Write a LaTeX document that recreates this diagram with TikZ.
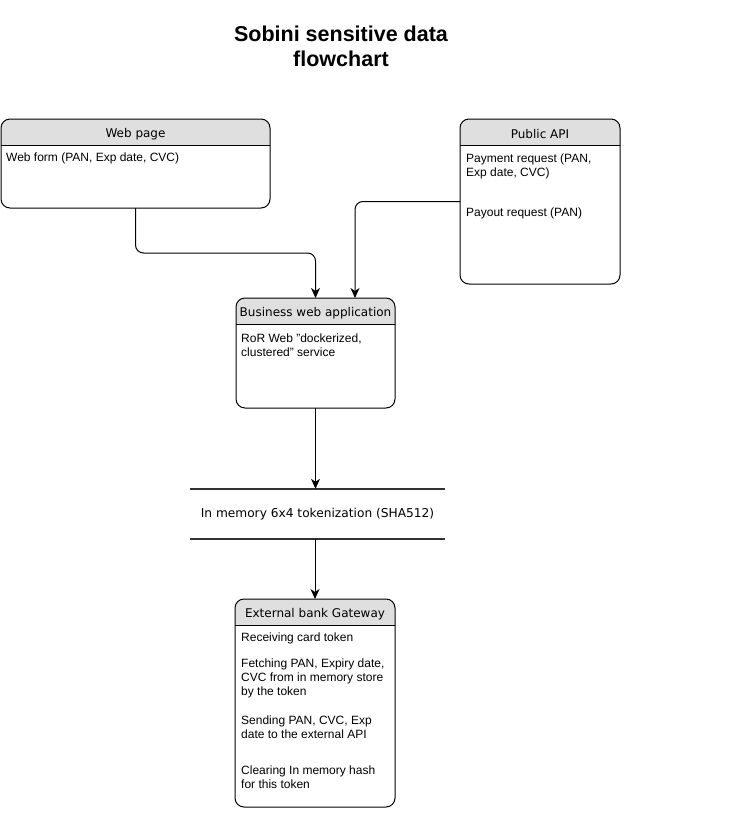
\documentclass[tikz,border=0pt]{standalone}
\usepackage{fontspec}
\setmainfont{Liberation Sans}
\newfontfamily\hdfont{DejaVu Sans}
\usepackage{tikz}
\usetikzlibrary{arrows.meta,backgrounds}

\begin{document}
\begin{tikzpicture}[
    x=1pt, y=1pt,
    box/.style = {draw, rounded corners=9pt, line width=1pt, inner sep=0pt, outer sep=0pt},
    head/.style = {font=\hdfont\fontsize{12}{14}\selectfont, inner sep=0pt},
    body/.style = {font=\fontsize{12}{14}\selectfont, align=left, anchor=north west, inner sep=0pt},
    flow/.style = {-{Stealth[length=10pt,width=9pt,inset=3pt]}, line width=1pt, rounded corners=8pt}
  ]
  \useasboundingbox (0,0) rectangle (740,-838);

  \node (title) at (341,-46) [font=\bfseries\fontsize{21.5}{25}\selectfont, align=center] {Sobini sensitive data\\flowchart};

  \node (web) [box, minimum width=269, minimum height=89] at (135.5,-163.5) {};
  \node (api) [box, minimum width=160, minimum height=165] at (540,-201.5) {};
  \node (app) [box, minimum width=159, minimum height=110] at (315.5,-353) {};
  \node (gw) [box, minimum width=160, minimum height=208] at (315,-703) {};
  \node (tok) [head, font=\hdfont\fontsize{12.2}{14}\selectfont, minimum width=255, minimum height=50] at (317.5,-514) {In memory 6x4 tokenization (SHA512)};

  \begin{scope}[on background layer]
    \foreach \n in {web,api,app,gw} {
      \begin{scope}
        \clip (\n.north west) rectangle ([yshift=-26pt]\n.north east);
        \fill[gray!25, rounded corners=9pt] (\n.north west) rectangle (\n.south east);
      \end{scope}
      \draw[line width=1pt] ([yshift=-26pt]\n.north west) -- ([yshift=-26pt]\n.north east);
    }
  \end{scope}

  \node (webhd) [head] at ([yshift=-15pt]web.north) {Web page};
  \node (apihd) [head] at ([yshift=-15pt]api.north) {Public API};
  \node (apphd) [head] at ([yshift=-15pt]app.north) {Business web application};
  \node (gwhd) [head] at ([yshift=-15pt]gw.north) {External bank Gateway};

  \node (webtxt) [body] at (6,-153) {Web form (PAN, Exp date, CVC)};
  \node (apitxt) [body] at (466,-154) {Payment request (PAN,\\Exp date, CVC)\\[26pt]Payout request (PAN)};
  \node (apptxt) [body] at (241,-334) {RoR Web "dockerized,\\clustered" service};
  \node (gwtxt) [body] at (241,-633) {Receiving card token\\[12pt]Fetching PAN, Expiry date,\\CVC from in memory store\\by the token\\[15pt]Sending PAN, CVC, Exp\\date to the external API\\[22pt]Clearing In memory hash\\for this token};

  \draw[line width=2pt, black!80] (tok.north west) -- (tok.north east);
  \draw[line width=2pt, black!80] (tok.south west) -- (tok.south east);

  \draw[flow] (web.south) -- ++(0,-45) -| (app.north);
  \draw[flow] (api.west) -| ([xshift=39.5pt]app.north);
  \draw[flow] (app.south) -- (app.south |- tok.north);
  \draw[flow] (gw.north |- tok.south) -- (gw.north);
\end{tikzpicture}
\end{document}
